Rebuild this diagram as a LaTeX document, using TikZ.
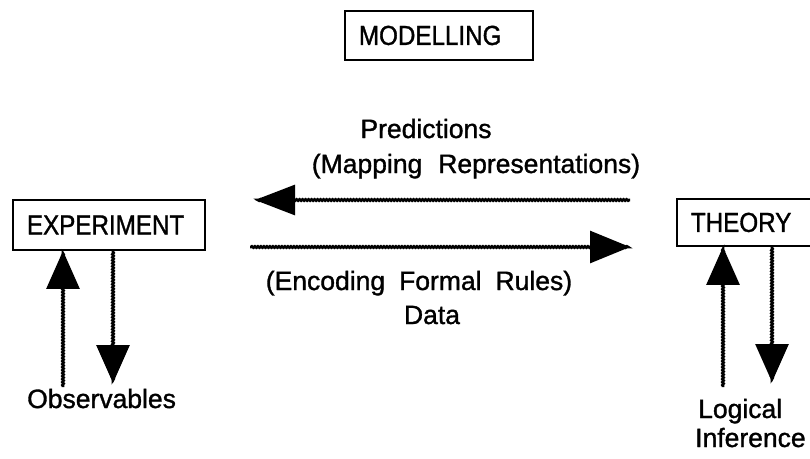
\documentclass[tikz,border=0pt]{standalone}
\usepackage{fontspec}
\setmainfont{Liberation Sans}
% a slightly heavier regular face, as the printed labels are
\newfontfamily\labelfont{Liberation Sans}[
  BoldFont={Liberation Sans}, BoldFeatures={FakeBold=1.2}]
\newfontfamily\boxfont{Liberation Sans}[FakeStretch=0.88,
  BoldFont={Liberation Sans}, BoldFeatures={FakeBold=1.2, FakeStretch=0.88}]
\usetikzlibrary{arrows.meta,decorations.pathmorphing}

\begin{document}
\begin{tikzpicture}[x=1pt,y=-1pt,
  box/.style={draw, line width=1.9pt, inner ysep=0pt, inner xsep=14pt,
    anchor=north west, align=left,
    font=\boxfont\bfseries\fontsize{27.5}{30}\selectfont},
  lbl/.style={inner sep=0pt, font=\labelfont\bfseries\fontsize{26.5}{30}\selectfont},
  link/.style={line width=2.8pt, decorate,
    decoration={snake, amplitude=0.6pt, segment length=3pt,
      pre length=1pt, post length=2pt}},
  head/.style={-{Triangle[length=38pt, width=33pt]}},
]
\useasboundingbox (0,0) rectangle (810,458);
\clip (0,0) rectangle (810,458);

% boxes
\node[box, minimum width=188pt, minimum height=49pt, text width=160pt]
  (model) at (344,10) {MODELLING};
\node[box, minimum width=192pt, minimum height=50pt, text width=164pt]
  (exp) at (12,199) {EXPERIMENT};
\node[box, minimum width=200pt, minimum height=47pt, text width=172pt]
  (theory) at (676,198) {THEORY};

% labels
\node[lbl, anchor=base] (pred) at (426,138) {Predictions};
\node[lbl, anchor=base] (mapr) at (476,173)
  {(Mapping\hspace{16pt}Representations)};
\node[lbl, anchor=base] (encr) at (419,290)
  {(Encoding\hspace{14pt}Formal\hspace{14pt}Rules)};
\node[lbl, anchor=base] (data) at (432,324) {Data};
\node[lbl, anchor=base west] (obs) at (27,408) {Observables};
\node[lbl, anchor=base west] (logic) at (698,418) {Logical};
\node[lbl, anchor=base west] (infer) at (695,447) {Inference};

% free ends of the connectors
\coordinate (predS) at (630,200);
\coordinate (predE) at (255,200);
\coordinate (dataS) at (250,247);
\coordinate (dataE) at (630,247);
\coordinate (obsUp) at (63,387);
\coordinate (obsDn) at (113,383);
\coordinate (infUp) at (723,387);
\coordinate (infDn) at (772,382);

% horizontal exchange
\draw[link, -{Triangle[length=40pt, width=30pt]}] (predS) -- (predE);
\draw[link, -{Triangle[length=40pt, width=32pt]}] (dataS) -- (dataE);

% experiment loop
\draw[link, head] (obsUp) -- (obsUp |- exp.south);
\draw[link, head] (obsDn |- exp.south) -- (obsDn);

% theory loop
\draw[link, head] (infUp) -- (infUp |- theory.south);
\draw[link, head] (infDn |- theory.south) -- (infDn);
\end{tikzpicture}
\end{document}
